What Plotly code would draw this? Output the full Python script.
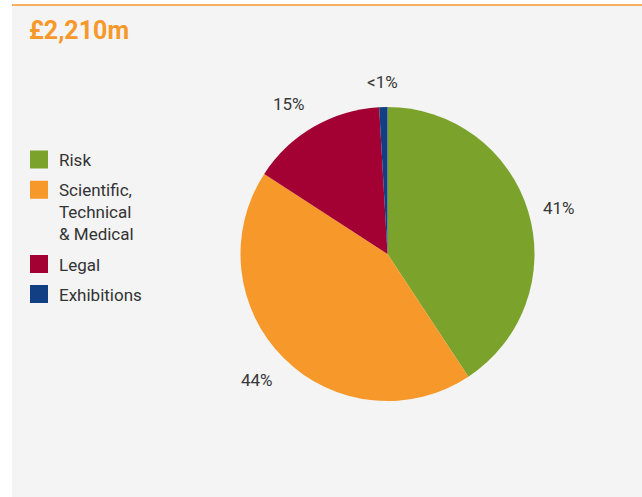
import math
import plotly.graph_objects as go

categories = ["Risk", "Scientific,<br>Technical<br>& Medical", "Legal", "Exhibitions"]
values = [900, 960, 330, 20]
pct_labels = ["41%", "44%", "15%", "<1%"]
colors = ["#7ba32c", "#f7982a", "#a30034", "#123e84"]
title_text = "£2,210m"

W, H = 642, 497
cx, cy, r = 387.5, 254, 147
gap = 13
FONT = "Roboto"

fig = go.Figure()
fig.add_trace(go.Pie(
    labels=categories,
    values=values,
    textinfo="none",
    sort=False,
    direction="clockwise",
    rotation=0,
    marker=dict(colors=colors, line=dict(width=0)),
    domain=dict(x=[(cx - r) / W, (cx + r) / W], y=[(H - cy - r) / H, (H - cy + r) / H]),
    hoverinfo="label+percent",
    showlegend=False,
))

# legend entries with square swatches
for name, col in zip(categories, colors):
    fig.add_trace(go.Scatter(
        x=[None], y=[None], mode="markers", name=name,
        marker=dict(symbol="square", size=16, color=col, line=dict(color=col, width=2)),
        legendgroup=name, showlegend=True,
    ))

# percentage labels placed just outside each slice's mid-angle (computed from the values)
total = sum(values)
annotations = []
cum = 0
for v, t in zip(values, pct_labels):
    mid = (cum + v / 2) / total * 2 * math.pi
    cum += v
    s, c = math.sin(mid), math.cos(mid)
    px = cx + (r + gap) * s
    py = cy - (r + gap) * c
    xa = "left" if s > 0.3 else ("right" if s < -0.3 else "center")
    ya = "bottom" if c > 0.3 else ("top" if c < -0.3 else "middle")
    annotations.append(dict(text=t, xref="paper", yref="paper", x=px / W, y=1 - py / H,
                            xanchor=xa, yanchor=ya, showarrow=False,
                            font=dict(family=FONT, size=17, color="#383838")))

annotations.append(dict(text="<b>" + title_text + "</b>", xref="paper", yref="paper",
                        x=27 / W, y=1 - 31 / H, xanchor="left", yanchor="middle", showarrow=False,
                        font=dict(family=FONT, size=25, color="#f7982a")))

fig.update_layout(
    width=W, height=H,
    margin=dict(l=0, r=0, t=0, b=0),
    paper_bgcolor="white",
    plot_bgcolor="rgba(0,0,0,0)",
    xaxis=dict(visible=False),
    yaxis=dict(visible=False),
    showlegend=True,
    legend=dict(
        x=19 / W, y=1 - 142 / H, xanchor="left", yanchor="top",
        font=dict(family=FONT, size=17, color="#333333"),
        bgcolor="rgba(0,0,0,0)",
        traceorder="grouped", tracegroupgap=5, valign="top",
    ),
    shapes=[
        dict(type="rect", xref="paper", yref="paper", x0=12 / W, x1=1, y0=0, y1=1 - 5 / H,
             fillcolor="#f4f4f4", line=dict(width=0), layer="below"),
        dict(type="line", xref="paper", yref="paper", x0=12 / W, x1=1, y0=1 - 5 / H, y1=1 - 5 / H,
             line=dict(color="#f7982a", width=1.5)),
    ],
    annotations=annotations,
)

fig.write_html("out.html", config={"displayModeBar": False},
               post_script="document.body.style.margin='0';")
